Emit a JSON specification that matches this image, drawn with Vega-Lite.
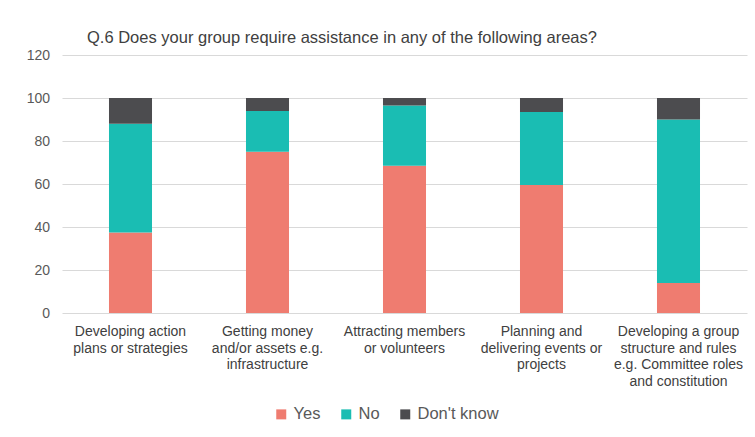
{
  "$schema": "https://vega.github.io/schema/vega-lite/v6.json",
  "width": 685,
  "height": 258,
  "autosize": {"type": "none"},
  "padding": {"left": 62, "top": 55, "right": 8, "bottom": 124},
  "background": "white",
  "title": {
    "text": "Q.6 Does your group require assistance in any of the following areas?",
    "anchor": "start",
    "frame": "group",
    "dx": 25,
    "offset": -11,
    "baseline": "alphabetic",
    "font": "Liberation Sans",
    "fontSize": 16.5,
    "fontWeight": "normal",
    "color": "#404040"
  },
  "data": {
    "values": [
      {"area": "Developing action|plans or strategies", "resp": "Yes", "order": 1, "value": 37.5},
      {"area": "Developing action|plans or strategies", "resp": "No", "order": 2, "value": 50.5},
      {"area": "Developing action|plans or strategies", "resp": "Don't know", "order": 3, "value": 12},
      {"area": "Getting money|and/or assets e.g.|infrastructure", "resp": "Yes", "order": 1, "value": 75},
      {"area": "Getting money|and/or assets e.g.|infrastructure", "resp": "No", "order": 2, "value": 19},
      {"area": "Getting money|and/or assets e.g.|infrastructure", "resp": "Don't know", "order": 3, "value": 6},
      {"area": "Attracting members|or volunteers", "resp": "Yes", "order": 1, "value": 68.5},
      {"area": "Attracting members|or volunteers", "resp": "No", "order": 2, "value": 28},
      {"area": "Attracting members|or volunteers", "resp": "Don't know", "order": 3, "value": 3.5},
      {"area": "Planning and|delivering events or|projects", "resp": "Yes", "order": 1, "value": 59.5},
      {"area": "Planning and|delivering events or|projects", "resp": "No", "order": 2, "value": 34},
      {"area": "Planning and|delivering events or|projects", "resp": "Don't know", "order": 3, "value": 6.5},
      {"area": "Developing a  group|structure and rules|e.g. Committee roles|and constitution", "resp": "Yes", "order": 1, "value": 14},
      {"area": "Developing a  group|structure and rules|e.g. Committee roles|and constitution", "resp": "No", "order": 2, "value": 76},
      {"area": "Developing a  group|structure and rules|e.g. Committee roles|and constitution", "resp": "Don't know", "order": 3, "value": 10}
    ]
  },
  "mark": {"type": "bar"},
  "encoding": {
    "x": {
      "field": "area",
      "type": "nominal",
      "sort": null,
      "scale": {"paddingInner": 0.686, "paddingOuter": 0.343},
      "axis": {
        "title": null,
        "labelAngle": 0,
        "labelExpr": "split(datum.label, '|')",
        "labelLineHeight": 16.5,
        "labelBaseline": "top",
        "labelPadding": 11.5,
        "labelFont": "Liberation Sans",
        "labelFontSize": 14,
        "labelColor": "#404040",
        "labelLimit": 200,
        "ticks": false,
        "domain": false,
        "grid": false
      }
    },
    "y": {
      "field": "value",
      "type": "quantitative",
      "stack": "zero",
      "scale": {"domain": [0, 120]},
      "axis": {
        "title": null,
        "values": [0, 20, 40, 60, 80, 100, 120],
        "labelFont": "Liberation Sans",
        "labelFontSize": 14,
        "labelColor": "#595959",
        "labelPadding": 12.5,
        "ticks": false,
        "domain": false,
        "grid": true,
        "gridColor": "#d9d9d9",
        "gridWidth": 1
      }
    },
    "color": {
      "field": "resp",
      "type": "nominal",
      "sort": ["Yes", "No", "Don't know"],
      "scale": {"domain": ["Yes", "No", "Don't know"], "range": ["#EF7C70", "#1ABDB3", "#4C4C4F"]},
      "legend": {
        "title": null,
        "orient": "none",
        "direction": "horizontal",
        "legendX": 211,
        "legendY": 351,
        "symbolType": "square",
        "symbolSize": 100,
        "symbolStrokeWidth": 0,
        "labelFont": "Liberation Sans",
        "labelFontSize": 16.5,
        "labelColor": "#595959",
        "labelOffset": 4,
        "columnPadding": 17
      }
    },
    "order": {"field": "order", "type": "quantitative"}
  },
  "config": {"view": {"stroke": null}}
}
